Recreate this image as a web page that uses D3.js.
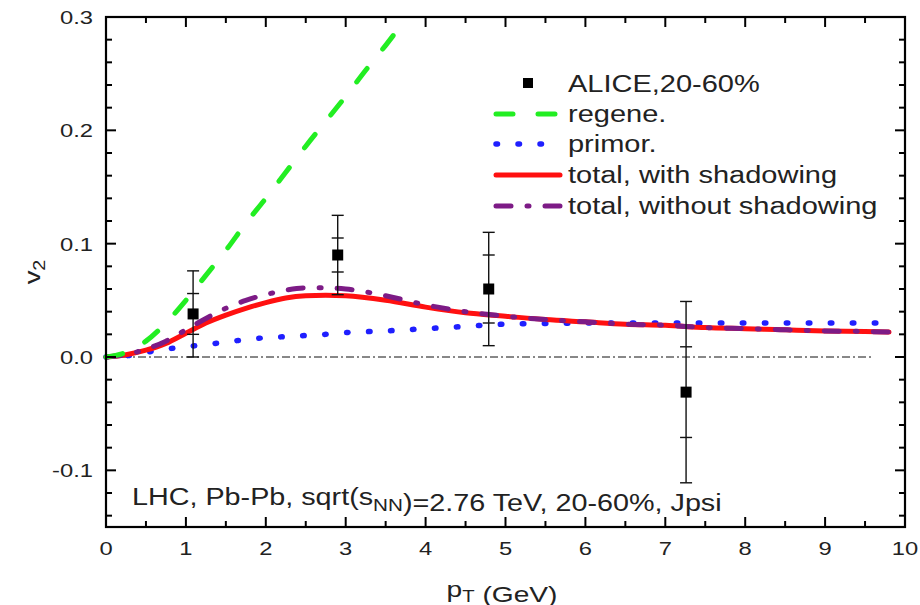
<!DOCTYPE html>
<html><head><meta charset="utf-8">
<script src="https://cdn.jsdelivr.net/npm/d3@7"></script>
<style>
html,body{margin:0;padding:0;background:#fff;}
svg{display:block;font-family:"Liberation Sans",Arial,sans-serif;}
</style></head>
<body><svg id="c" width="920" height="605"></svg>
<script>
// ---- data ----
const xTicks = [0,1,2,3,4,5,6,7,8,9,10];
const yTicks = [-0.1,0.0,0.1,0.2,0.3];
const yTickLabels = ["-0.1","0.0","0.1","0.2","0.3"];

const aliceX = [1.09, 2.90, 4.79, 7.26];
const aliceY = [0.038, 0.090, 0.060, -0.031];
const aliceStat = [0.018, 0.015, 0.030, 0.040];
const aliceTot = [0.038, 0.035, 0.050, 0.080];

const regeneX = [0,0.25,0.5,0.75,1.0,1.25,1.5,1.75,2.0,2.25,2.5,2.75,3.0,3.25,3.5,3.62];
const regeneY = [0,0.004,0.014,0.030,0.050,0.072,0.094,0.118,0.140,0.163,0.186,0.208,0.230,0.253,0.275,0.286];

const curveX = [0,0.25,0.5,0.75,1.0,1.25,1.5,1.75,2.0,2.25,2.5,2.75,3.0,3.5,4.0,4.5,5.0,5.5,6.0,6.5,7.0,7.5,8.0,8.5,9.0,9.5,9.8];
const primorY = [0,0.001,0.004,0.007,0.009,0.011,0.013,0.0155,0.017,0.018,0.019,0.020,0.0215,0.023,0.025,0.027,0.029,0.0295,0.030,0.030,0.030,0.030,0.030,0.030,0.030,0.030,0.030];
const withShadowY = [0,0.002,0.006,0.012,0.021,0.030,0.037,0.043,0.048,0.052,0.054,0.0545,0.054,0.050,0.044,0.039,0.036,0.033,0.031,0.029,0.028,0.026,0.025,0.024,0.023,0.0225,0.022];
const withoutShadowY = [0,0.002,0.007,0.014,0.024,0.034,0.043,0.050,0.055,0.059,0.061,0.061,0.060,0.054,0.046,0.040,0.036,0.033,0.031,0.029,0.028,0.026,0.025,0.024,0.023,0.0225,0.022];

const legendLabels = ["ALICE,20-60%","regene.","primor.","total, with shadowing","total, without shadowing"];

// ---- layout ----
const L=106, R=905, T=17, B=527, SX=1.25;
const svg = d3.select("#c");
const x = d3.scaleLinear().domain([0,10]).range([L,R]);
const y = d3.scaleLinear().domain([-0.15,0.3]).range([B,T]);
const textCol = "#222";

function addText(px, py, anchor, size, parts, rotate){
  const g = svg.append("g").attr("transform",`translate(${px},${py})`+(rotate?` rotate(${rotate})`:"")+` scale(${SX},1)`);
  const t = g.append("text").attr("text-anchor",anchor).attr("font-size",size).attr("fill",textCol);
  parts.forEach(p=>{
    if(typeof p==="string"){ t.append("tspan").text(p); }
    else { t.append("tspan").attr("font-size",size*0.72).attr("dy",p.dy).text(p.sub);
           t.append("tspan").attr("dy",-p.dy).text(""); }
  });
  return t;
}

// zero reference line
svg.append("line").attr("x1",x(0)).attr("x2",x(9.6)).attr("y1",y(0)).attr("y2",y(0))
  .attr("stroke","#111").attr("stroke-width",1).attr("stroke-dasharray","8,3,2,3");

// curves
const mk = (xs,ys)=> d3.line().x((d,i)=>x(xs[i])).y(d=>y(d)).curve(d3.curveMonotoneX)(ys);
svg.append("path").attr("d",mk(curveX,primorY)).attr("fill","none").attr("stroke","#1f1fff")
  .attr("stroke-width",5.5).attr("stroke-linecap","round").attr("stroke-dasharray","1.5,20.5");
svg.append("path").attr("d",mk(curveX,withShadowY)).attr("fill","none").attr("stroke","#ff1010")
  .attr("stroke-width",5).attr("stroke-linecap","round");
svg.append("path").attr("d",mk(curveX,withoutShadowY)).attr("fill","none").attr("stroke","#7d1b86")
  .attr("stroke-width",5).attr("stroke-linecap","round").attr("stroke-dasharray","15,16,2,16");
svg.append("path").attr("d",mk(regeneX,regeneY)).attr("fill","none").attr("stroke","#22ee22")
  .attr("stroke-width",5).attr("stroke-linecap","round").attr("stroke-dasharray","17,25");

// data points with error bars
const pts = aliceX.map((v,i)=>({x:v,y:aliceY[i],s:aliceStat[i],t:aliceTot[i]}));
const eg = svg.append("g").attr("stroke","#111").attr("stroke-width",1.4);
pts.forEach(p=>{
  eg.append("line").attr("x1",x(p.x)).attr("x2",x(p.x)).attr("y1",y(p.y+p.t)).attr("y2",y(p.y-p.t));
  [p.y+p.t,p.y-p.t,p.y+p.s,p.y-p.s].forEach(v=>{
    eg.append("line").attr("x1",x(p.x)-6).attr("x2",x(p.x)+6).attr("y1",y(v)).attr("y2",y(v));
  });
});
svg.selectAll("rect.pt").data(pts).enter().append("rect").attr("class","pt")
  .attr("x",d=>x(d.x)-5.5).attr("y",d=>y(d.y)-5.5).attr("width",11).attr("height",11).attr("fill","#000");

// frame and ticks (inward, all four sides)
const ax = svg.append("g").attr("stroke","#000").attr("stroke-width",2);
const xMinor = d3.range(0,10.01,0.5), yMinor = d3.range(-0.14,0.3001,0.02);
xMinor.forEach(v=>{
  const major = Math.abs(v-Math.round(v))<1e-6, len = major?10:6;
  ax.append("line").attr("x1",x(v)).attr("x2",x(v)).attr("y1",B).attr("y2",B-len);
  ax.append("line").attr("x1",x(v)).attr("x2",x(v)).attr("y1",T).attr("y2",T+len);
});
yMinor.forEach(v=>{
  const major = Math.abs(v*10-Math.round(v*10))<1e-6, len = major?10:6;
  ax.append("line").attr("x1",L).attr("x2",L+len).attr("y1",y(v)).attr("y2",y(v));
  ax.append("line").attr("x1",R).attr("x2",R-len).attr("y1",y(v)).attr("y2",y(v));
});
svg.append("rect").attr("x",L).attr("y",T).attr("width",R-L).attr("height",B-T)
  .attr("fill","none").attr("stroke","#000").attr("stroke-width",2.2);

// tick labels
xTicks.forEach(v=> addText(x(v), 555, "middle", 19, [String(v)]));
yTicks.forEach((v,i)=> addText(93, y(v)+7, "end", 19, [yTickLabels[i]]));

// axis titles
addText(502, 597, "middle", 22.5, ["p",{sub:"T",dy:5}," (GeV)"]);
addText(40, 272, "middle", 22, ["v",{sub:"2",dy:5}], -90);

// annotation
addText(132, 505, "start", 23, ["LHC, Pb-Pb, sqrt(s",{sub:"NN",dy:6},")=2.76 TeV, 20-60%, Jpsi"]);

// legend
const lgY = [92,122,152,183,214];
const lx = 568;
svg.append("rect").attr("x",523).attr("y",lgY[0]-14).attr("width",10).attr("height",10).attr("fill","#000");
const lgStyles = [null,
  {c:"#22ee22",w:5,d:"17,25"},
  {c:"#1f1fff",w:5.5,d:"1.5,20.5"},
  {c:"#ff1010",w:5,d:null},
  {c:"#7d1b86",w:5,d:"15,16,2,16"}];
lgStyles.forEach((s,i)=>{
  if(!s) return;
  const ln = svg.append("line").attr("x1",496).attr("x2",560).attr("y1",lgY[i]-8).attr("y2",lgY[i]-8)
    .attr("stroke",s.c).attr("stroke-width",s.w).attr("stroke-linecap","round");
  if(s.d) ln.attr("stroke-dasharray",s.d);
});
legendLabels.forEach((t,i)=> addText(lx, lgY[i], "start", 23.2, [t]));
</script></body></html>
